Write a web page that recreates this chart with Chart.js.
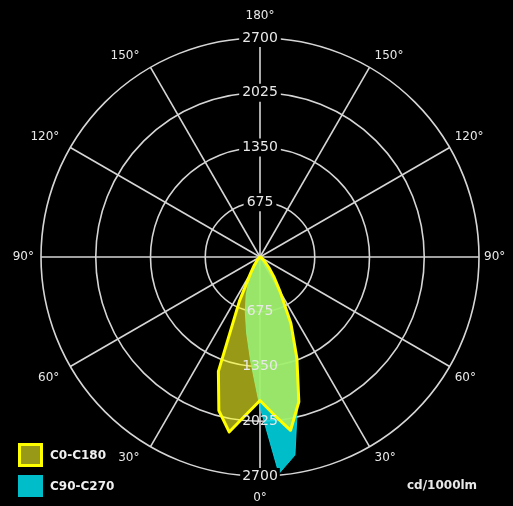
<!DOCTYPE html>
<html>
<head>
<meta charset="utf-8">
<script src="https://cdn.jsdelivr.net/npm/chart.js@4.4.1/dist/chart.umd.min.js"></script>
<style>
html,body{margin:0;padding:0;background:#000;overflow:hidden}
canvas{display:block}
</style>
</head>
<body>
<canvas id="c" width="513" height="506"></canvas>
<script>
// ---- data (cd/1000lm), gamma = 0,5,...,180 degrees ----
const gammaStep = 5;
const seriesNames = ['C0-C180', 'C90-C270'];
const tickValues = [675, 1350, 2025, 2700];
const unitLabel = 'cd/1000lm';
// right half of the C0-C180 plane (C0)
const c0   = [1770,1950,2170,1850,1330,900,500,300,170,90,50,30,20,15,10,8,5,3,0,0,0,0,0,0,0,0,0,0,0,0,0,0,0,0,0,0,0];
// left half of the C0-C180 plane (C180)
const c180 = [1770,1950,2190,1960,1500,600,230,120,60,30,15,10,8,5,4,3,2,1,0,0,0,0,0,0,0,0,0,0,0,0,0,0,0,0,0,0,0];
// right half of the C90-C270 plane (C90)
const c90  = [1850,2680,2480,1800,1330,900,500,300,170,90,50,30,20,15,10,8,5,3,0,0,0,0,0,0,0,0,0,0,0,0,0,0,0,0,0,0,0];
// left half of the C90-C270 plane (C270)
const c270 = [1850,1300,950,700,500,330,200,120,70,40,25,15,10,8,5,3,2,1,0,0,0,0,0,0,0,0,0,0,0,0,0,0,0,0,0,0,0];

// direction angles clockwise from the top of the diagram
const directions = [];
for (let a = 0; a < 360; a += gammaStep) directions.push(a);

function planeData(right, left) {
  return directions.map(a => a <= 180 ? right[(180 - a) / gammaStep] : left[(a - 180) / gammaStep]);
}
function gammaOf(a) { return a <= 180 ? 180 - a : a - 180; }

const yellowLine = '#ffff00';
const yellowFill = 'rgba(255,255,40,0.6)';
const cyanFill = 'rgba(0,215,230,0.88)';
const gridColor = '#d6d6d6';
const textColor = '#e8e8e8';
const FONT = '"DejaVu Sans", Verdana, sans-serif';

const bgPlugin = {
  id: 'bg',
  beforeDraw(chart) {
    const c = chart.ctx;
    c.save();
    c.fillStyle = '#000';
    c.fillRect(0, 0, chart.width, chart.height);
    c.restore();
  }
};

const bottomTicksPlugin = {
  id: 'bottomTicks',
  afterDatasetsDraw(chart) {
    const s = chart.scales.r, ctx = chart.ctx;
    ctx.save();
    ctx.font = '14px ' + FONT;
    ctx.textAlign = 'center';
    ctx.textBaseline = 'middle';
    tickValues.forEach(v => {
      const y = s.yCenter + s.getDistanceFromCenterForValue(v);
      const t = String(v);
      if (v === s.max) {
        const w = ctx.measureText(t).width;
        ctx.fillStyle = '#000';
        ctx.fillRect(s.xCenter - w / 2 - 2, y - 8, w + 4, 16);
      }
      ctx.fillStyle = textColor;
      ctx.fillText(t, s.xCenter, y);
    });
    ctx.restore();
  }
};

const angleLabelsPlugin = {
  id: 'angleLabels',
  afterDraw(chart) {
    const s = chart.scales.r, ctx = chart.ctx;
    ctx.save();
    ctx.font = '12px ' + FONT;
    ctx.fillStyle = textColor;
    ctx.textBaseline = 'middle';
    directions.forEach((a, i) => {
      if (a % 30 !== 0) return;
      const p = s.getPointPosition(i, s.drawingArea);
      const t = gammaOf(a) + '°';
      let x = p.x, y = p.y;
      if (a === 0) { ctx.textAlign = 'center'; y -= 22; }
      else if (a === 180) { ctx.textAlign = 'center'; y += 22; }
      else if (a === 90) { ctx.textAlign = 'left'; x += 5; }
      else if (a === 270) { ctx.textAlign = 'right'; x -= 7; }
      else if (a < 180) { ctx.textAlign = 'left'; x += 5; y += (p.y < s.yCenter ? -11 : 11); }
      else { ctx.textAlign = 'right'; x -= 11; y += (p.y < s.yCenter ? -11 : 11); }
      ctx.fillText(t, x, y);
    });
    // unit
    ctx.font = 'bold 12px ' + FONT;
    ctx.textAlign = 'left';
    ctx.fillText(unitLabel, 407, 486);
    ctx.restore();
  }
};

const legendPlugin = {
  id: 'cornerLegend',
  afterDraw(chart) {
    const ctx = chart.ctx;
    ctx.save();
    const ds = chart.data.datasets;
    // C0-C180
    ctx.fillStyle = '#000';
    ctx.fillRect(18, 443, 25, 24);
    ctx.fillStyle = ds[0].backgroundColor;
    ctx.fillRect(18, 443, 25, 24);
    ctx.strokeStyle = ds[0].borderColor;
    ctx.lineWidth = 3;
    ctx.strokeRect(19.5, 444.5, 22, 21);
    // C90-C270
    ctx.fillStyle = ds[1].backgroundColor;
    ctx.fillRect(18, 475, 25, 22);
    ctx.font = 'bold 12px ' + FONT;
    ctx.fillStyle = '#f0f0f0';
    ctx.textBaseline = 'middle';
    ctx.textAlign = 'left';
    ctx.fillText(ds[0].label, 50, 456);
    ctx.fillText(ds[1].label, 50, 487);
    ctx.restore();
  }
};

new Chart(document.getElementById('c'), {
  type: 'radar',
  data: {
    labels: directions,
    datasets: [
      {
        label: seriesNames[0],
        data: planeData(c0, c180),
        borderColor: yellowLine,
        backgroundColor: yellowFill,
        borderWidth: 3,
        borderJoinStyle: 'round',
        fill: true,
        pointRadius: 0,
        tension: 0
      },
      {
        label: seriesNames[1],
        data: planeData(c90, c270),
        borderColor: 'rgba(0,215,230,0.9)',
        backgroundColor: cyanFill,
        borderWidth: 1,
        fill: true,
        pointRadius: 0,
        tension: 0
      }
    ]
  },
  options: {
    responsive: false,
    animation: false,
    layout: { padding: { left: 20, right: 12, top: 29, bottom: 20 } },
    plugins: { legend: { display: false }, tooltip: { enabled: false } },
    scales: {
      r: {
        min: 0,
        max: 2700,
        startAngle: 0,
        ticks: {
          stepSize: 675,
          color: textColor,
          font: { family: FONT, size: 14 },
          showLabelBackdrop: true,
          backdropColor: '#000',
          backdropPadding: { x: 3, y: 2 },
          callback: v => String(v)
        },
        grid: { circular: true, color: gridColor, lineWidth: 1.6 },
        angleLines: {
          display: true,
          color: gridColor,
          lineWidth: ctx => (directions[ctx.index] % 30 === 0 ? 1.6 : 0)
        },
        pointLabels: { display: false }
      }
    }
  },
  plugins: [bgPlugin, bottomTicksPlugin, angleLabelsPlugin, legendPlugin]
});
</script>
</body>
</html>
